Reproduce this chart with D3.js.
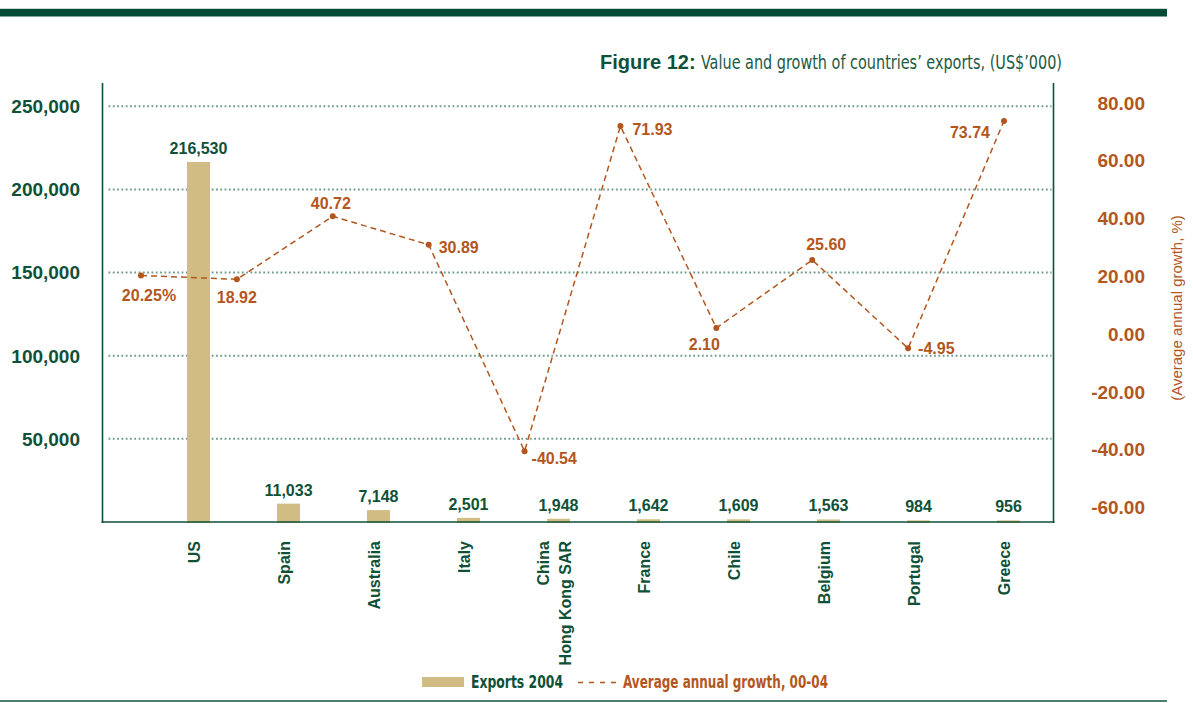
<!DOCTYPE html>
<html>
<head>
<meta charset="utf-8">
<script src="https://cdn.jsdelivr.net/npm/d3@7"></script>
<style>
  html, body { margin: 0; padding: 0; background: #ffffff; }
  svg { display: block; }
</style>
</head>
<body>
<svg id="chart" width="1193" height="703"></svg>
<script>
// ---------- data ----------
const countries = ["US", "Spain", "Australia", "Italy", "China\nHong Kong SAR", "France", "Chile", "Belgium", "Portugal", "Greece"];
const exports2004 = [216530, 11033, 7148, 2501, 1948, 1642, 1609, 1563, 984, 956];
const growth = [20.25, 18.92, 40.72, 30.89, -40.54, 71.93, 2.10, 25.60, -4.95, 73.74];
const growthLabels = ["20.25%", "18.92", "40.72", "30.89", "-40.54", "71.93", "2.10", "25.60", "-4.95", "73.74"];
const leftTicks = [50000, 100000, 150000, 200000, 250000];
const rightTicks = [80, 60, 40, 20, 0, -20, -40, -60];
const titleBold = "Figure 12:";
const titleRest = "Value and growth of countries\u2019 exports, (US$\u2019000)";
const rightAxisTitle = "(Average annual growth, %)";
const legendBar = "Exports 2004";
const legendLine = "Average annual growth, 00-04";

// label placement for growth values (dx, dy, anchor) — styling only
const growthLabelPos = [
  [8, 26, "middle"], [0, 24, "middle"], [-2, -7, "middle"], [10, 8, "start"], [7, 13, "start"],
  [12, 9, "start"], [-12, 22, "middle"], [14, -10, "middle"], [10, 6, "start"], [-14, 17, "end"]
];

// ---------- styles ----------
const GREEN = "#0f5138";
const ORANGE = "#b3561e";
const BAR = "#d1bc84";
const GRID = "#6f9c8f";

const svg = d3.select("#chart");
const locale = d3.formatLocale({ decimal: ".", thousands: ",", grouping: [3], currency: ["$", ""], minus: "-" });
const fmtThousands = locale.format(",");
const fmt2 = locale.format(".2f");

// ---------- scales ----------
const plotTop = 83, plotBottom = 522, plotLeft = 102.5, plotRight = 1053.5;
const yLeft = d3.scaleLinear().domain([0, 264000]).range([plotBottom, plotTop]);
const yRight = d3.scaleLinear().domain([-65.05, 86.85]).range([plotBottom, plotTop]);
const xBar = d3.scaleBand().domain(countries).range([153.5, 1053.5]).paddingInner(0.7444).paddingOuter(0.3722);
const xPt = d3.scalePoint().domain(countries).range([141, 1004]);

// ---------- frame decorations ----------
svg.append("rect").attr("x", 0).attr("y", 8).attr("width", 1167).attr("height", 1).attr("fill", "#c9d8d1");
svg.append("rect").attr("x", 0).attr("y", 9).attr("width", 1167).attr("height", 7.5).attr("fill", "#034b34");
svg.append("rect").attr("x", 0).attr("y", 700).attr("width", 1167).attr("height", 2).attr("fill", "#4d8070");

// ---------- title ----------
svg.append("text").attr("x", 600).attr("y", 69)
  .attr("font-family", "'Liberation Sans', Arial, sans-serif").attr("font-weight", "bold")
  .attr("font-size", 20).attr("fill", GREEN).text(titleBold);
svg.append("text").attr("x", 701).attr("y", 69)
  .attr("font-family", "'Liberation Sans Narrow', 'DejaVu Sans Condensed', sans-serif")
  .attr("font-size", 20).attr("fill", "#1d5a44")
  .attr("textLength", 361).attr("lengthAdjust", "spacingAndGlyphs").text(titleRest);

// ---------- gridlines ----------
svg.append("g").selectAll("line").data(leftTicks).join("line")
  .attr("x1", plotLeft + 6).attr("x2", plotRight - 2)
  .attr("y1", d => yLeft(d)).attr("y2", d => yLeft(d))
  .attr("stroke", GRID).attr("stroke-width", 2).attr("stroke-dasharray", "1.8,2.5");

// ---------- bars ----------
svg.append("g").selectAll("rect").data(exports2004).join("rect")
  .attr("x", (d, i) => xBar(countries[i]))
  .attr("width", xBar.bandwidth())
  .attr("y", d => yLeft(d))
  .attr("height", d => yLeft(0) - yLeft(d) + 1)
  .attr("fill", BAR);

svg.append("g").selectAll("text").data(exports2004).join("text")
  .attr("x", (d, i) => xBar(countries[i]) + xBar.bandwidth() / 2)
  .attr("y", d => yLeft(d) - 8)
  .attr("text-anchor", "middle")
  .attr("font-family", "'Liberation Sans', Arial, sans-serif").attr("font-weight", "bold")
  .attr("font-size", 16).attr("fill", GREEN)
  .text(d => fmtThousands(d));

// ---------- axes ----------
const axisG = svg.append("g").attr("stroke", GREEN).attr("stroke-width", 1.6);
axisG.append("line").attr("x1", plotLeft).attr("x2", plotLeft).attr("y1", plotTop).attr("y2", plotBottom + 1);
axisG.append("line").attr("x1", plotRight).attr("x2", plotRight).attr("y1", plotTop).attr("y2", plotBottom + 1);
axisG.append("line").attr("x1", plotLeft - 1).attr("x2", plotRight + 1).attr("y1", plotBottom).attr("y2", plotBottom);

// left tick labels
svg.append("g").selectAll("text").data(leftTicks).join("text")
  .attr("x", 80).attr("y", d => yLeft(d)).attr("dy", "0.36em")
  .attr("text-anchor", "end")
  .attr("font-family", "'Liberation Sans', Arial, sans-serif").attr("font-weight", "bold")
  .attr("font-size", 19).attr("fill", GREEN)
  .text(d => fmtThousands(d));

// right tick labels
svg.append("g").selectAll("text").data(rightTicks).join("text")
  .attr("x", 1145).attr("y", d => yRight(d)).attr("dy", "0.36em")
  .attr("text-anchor", "end")
  .attr("font-family", "'Liberation Sans', Arial, sans-serif").attr("font-weight", "bold")
  .attr("font-size", 19).attr("fill", ORANGE)
  .text(d => fmt2(d));

// right axis title
svg.append("text")
  .attr("transform", `translate(1182, 308) rotate(-90)`)
  .attr("text-anchor", "middle")
  .attr("font-family", "'Liberation Sans', Arial, sans-serif")
  .attr("font-size", 15).attr("fill", ORANGE)
  .text(rightAxisTitle);

// x category labels (rotated)
const xl = svg.append("g").selectAll("text").data(countries).join("text")
  .attr("transform", d => `translate(${xBar(d) + xBar.bandwidth() / 2 - 4}, 541) rotate(-90)`)
  .attr("text-anchor", "end")
  .attr("font-family", "'Liberation Sans', Arial, sans-serif").attr("font-weight", "bold")
  .attr("font-size", 16).attr("fill", GREEN);
xl.each(function (d) {
  const lines = d.split("\n");
  const n = lines.length;
  d3.select(this).selectAll("tspan").data(lines).join("tspan")
    .attr("x", 0)
    .attr("y", (l, i) => (i - (n - 1) / 2) * 22)
    .attr("dy", "0.35em")
    .text(l => l);
});

// ---------- growth line ----------
const lineGen = d3.line().x((d, i) => xPt(countries[i])).y(d => yRight(d));
svg.append("path").datum(growth)
  .attr("d", lineGen)
  .attr("fill", "none").attr("stroke", ORANGE).attr("stroke-width", 1.5)
  .attr("stroke-dasharray", "6,4");

svg.append("g").selectAll("circle").data(growth).join("circle")
  .attr("cx", (d, i) => xPt(countries[i]))
  .attr("cy", d => yRight(d))
  .attr("r", 3).attr("fill", ORANGE);

svg.append("g").selectAll("text").data(growth).join("text")
  .attr("x", (d, i) => xPt(countries[i]) + growthLabelPos[i][0])
  .attr("y", (d, i) => yRight(d) + growthLabelPos[i][1])
  .attr("text-anchor", (d, i) => growthLabelPos[i][2])
  .attr("font-family", "'Liberation Sans', Arial, sans-serif").attr("font-weight", "bold")
  .attr("font-size", 16).attr("fill", ORANGE)
  .text((d, i) => growthLabels[i]);

// ---------- legend ----------
svg.append("rect").attr("x", 422).attr("y", 677).attr("width", 42).attr("height", 10).attr("fill", BAR);
svg.append("text").attr("x", 471).attr("y", 688)
  .attr("font-family", "'Liberation Sans Narrow', 'DejaVu Sans Condensed', sans-serif")
  .attr("font-weight", "bold")
  .attr("font-size", 17).attr("fill", GREEN)
  .attr("textLength", 92).attr("lengthAdjust", "spacingAndGlyphs").text(legendBar);
svg.append("line").attr("x1", 578).attr("x2", 617).attr("y1", 682.5).attr("y2", 682.5)
  .attr("stroke", ORANGE).attr("stroke-width", 1.5).attr("stroke-dasharray", "5,6");
svg.append("text").attr("x", 623).attr("y", 688)
  .attr("font-family", "'Liberation Sans Narrow', 'DejaVu Sans Condensed', sans-serif")
  .attr("font-weight", "bold")
  .attr("font-size", 17).attr("fill", ORANGE)
  .attr("textLength", 205).attr("lengthAdjust", "spacingAndGlyphs").text(legendLine);
</script>
</body>
</html>
